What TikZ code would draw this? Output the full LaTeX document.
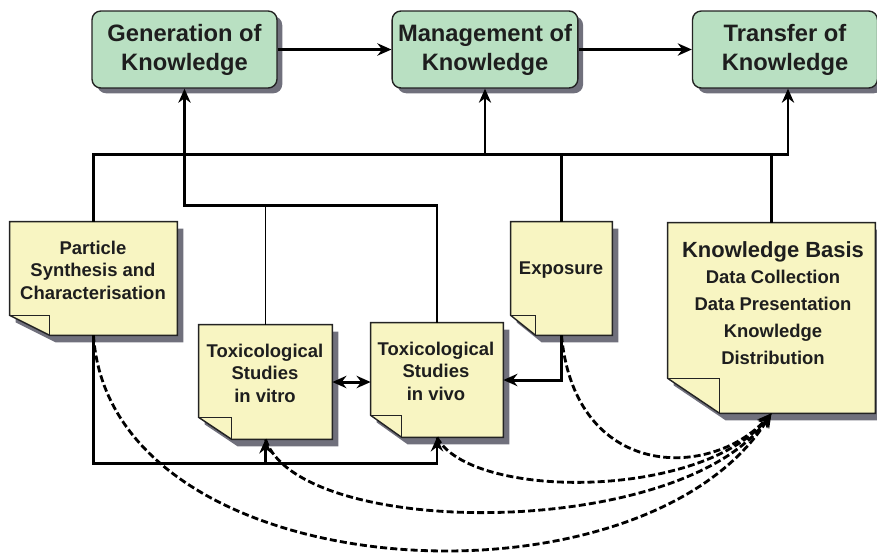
\documentclass[tikz,border=0pt]{standalone}
\usepackage{fontspec}
\setmainfont{Liberation Sans}
\usetikzlibrary{arrows.meta,shadows}

\definecolor{boxgreen}{RGB}{185,224,194}
\definecolor{noteyellow}{RGB}{248,245,194}
\definecolor{shadowgray}{RGB}{112,112,124}
\definecolor{edgegray}{RGB}{35,35,35}
\definecolor{inkgray}{RGB}{30,30,30}

\tikzset{
	stage/.style={draw=edgegray, line width=0.8pt, fill=boxgreen, rounded corners=5pt,
		minimum width=3.7cm, minimum height=1.54cm, align=center, text=inkgray,
		font=\fontsize{13.5}{16.5}\selectfont\bfseries,
		drop shadow={shadow xshift=3pt, shadow yshift=-3pt, fill=shadowgray, opacity=1}},
	note/.style={draw=none, inner sep=0pt},
	notebody/.style={draw=edgegray, line width=0.8pt, fill=noteyellow},
	notetext/.style={align=center, text=inkgray, font=\fontsize{10.5}{12.8}\selectfont\bfseries},
	conn/.style={line width=1.7pt, -{Stealth[length=8pt,width=7pt]}},
	thinconn/.style={line width=0.9pt},
	feed/.style={line width=1.6pt, dash pattern=on 4pt off 1.8pt, -{Stealth[length=8pt,width=7pt]}}
}

% sticky note outline: node name, fold width, fold height
\newcommand{\stickynote}[3]{%
	\fill[shadowgray, transform canvas={xshift=3.4pt,yshift=-4pt}] (#1.north west) -- (#1.north east) -- (#1.south east) -- ([shift={(#2,0)}]#1.south west) -- ([shift={(0,-#3)}]#1.south west) -- cycle;
	\filldraw[notebody] (#1.north west) -- (#1.north east) -- (#1.south east) -- ([shift={(#2,0)}]#1.south west) -- ([shift={(0,-#3)}]#1.south west) -- cycle;
	\draw[notebody, fill=none] ([shift={(0,-#3)}]#1.south west) -- ([shift={(#2,-#3)}]#1.south west) -- ([shift={(#2,0)}]#1.south west);
}

\begin{document}
\begin{tikzpicture}[x=0.02cm, y=-0.02cm]
	\useasboundingbox (0,0) rectangle (877,559);

	% knowledge stages
	\node [stage] (generation) at (184.5, 49.5) {Generation of\\Knowledge};
	\node [stage] (management) at (485, 49.5) {Management of\\Knowledge};
	\node [stage] (transfer) at (785, 49.5) {Transfer of\\Knowledge};

	\draw [conn] (generation) to (management);
	\draw [conn] (management) to (transfer);

	% notes
	\node [note, minimum width=3.34cm, minimum height=2.26cm] (particle) at (93.5, 278.5) {};
	\node [note, minimum width=2.66cm, minimum height=2.28cm] (vitro) at (265.5, 382) {};
	\node [note, minimum width=2.64cm, minimum height=2.28cm] (vivo) at (437, 380) {};
	\node [note, minimum width=2.02cm, minimum height=2.26cm] (exposure) at (561.5, 278.5) {};
	\node [note, minimum width=4.14cm, minimum height=3.8cm] (basis) at (771.5, 318) {};

	\stickynote{particle}{40}{20}
	\stickynote{vitro}{33}{22}
	\stickynote{vivo}{31}{22}
	\stickynote{exposure}{25}{20}
	\stickynote{basis}{52}{35}

	\node [notetext] (particle-text) at (93, 270) {Particle\\Synthesis and\\Characterisation};
	\node [notetext] (vitro-text) at (265, 373) {Toxicological\\Studies\\in vitro};
	\node [notetext] (vivo-text) at (436, 371) {Toxicological\\Studies\\in vivo};
	\node [notetext] (exposure-text) at (561, 270) {Exposure};
	\node [notetext, font=\fontsize{10.5}{15.3}\selectfont\bfseries] (basis-text) at (773, 303)
		{{\fontsize{12.5}{15.3}\selectfont Knowledge Basis}\\Data Collection\\Data Presentation\\Knowledge\\Distribution};

	% buses
	\coordinate (topbus) at (788, 154);
	\coordinate (midbus) at (0, 205);
	\coordinate (lowbus) at (0, 463);

	\draw [conn] (particle.north) |- (topbus) -- (topbus |- transfer.south);
	\draw [conn, line width=0.9pt] (management.south |- topbus) -- (management.south);
	\draw [line width=1.7pt] (exposure.north) -- (exposure.north |- topbus);
	\draw [line width=1.7pt] (basis.north) -- (basis.north |- topbus);

	\draw [conn] (vivo.north) |- (generation.south |- midbus) -- (generation.south);
	\draw [thinconn] (vitro.north) -- (vitro.north |- midbus);

	\draw [conn] (particle.south) |- (vivo.south |- lowbus) -- (vivo.south);
	\draw [conn] (vitro.south |- lowbus) -- (vitro.south);

	\draw [conn, {Stealth[length=8pt,width=7pt]}-{Stealth[length=8pt,width=7pt]}] (vitro.east) -- (vitro.east -| vivo.west);
	\draw [conn] (exposure.south) |- (vivo.east);

	% feedback into the knowledge basis
	\draw [feed] (exposure.south) .. controls (575, 480) and (710, 480) .. (basis.south);
	\draw [feed] (vivo.south) .. controls (470, 500) and (700, 500) .. (basis.south);
	\draw [feed] (vitro.south) .. controls (300, 540) and (680, 540) .. (basis.south);
	\draw [feed] (particle.south) .. controls (110, 590) and (640, 620) .. (basis.south);
\end{tikzpicture}
\end{document}
